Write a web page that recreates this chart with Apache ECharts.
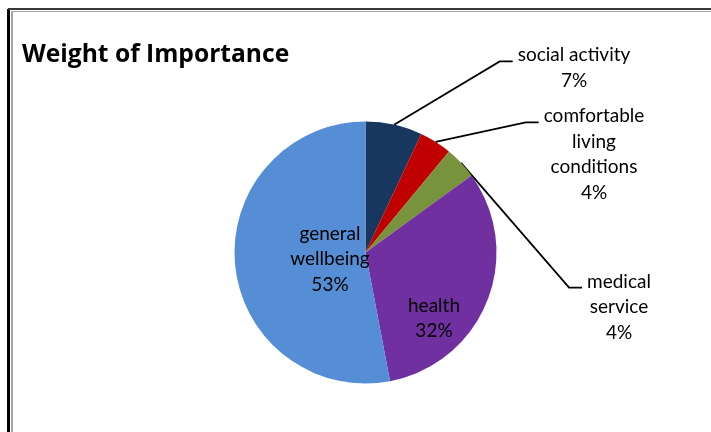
<!DOCTYPE html>
<html>
<head>
<meta charset="utf-8">
<script src="https://cdn.jsdelivr.net/npm/echarts@6/dist/echarts.min.js"></script>
<style>
  html, body { margin: 0; padding: 0; background: #fff; }
  #wrap { position: relative; width: 711px; height: 432px; overflow: hidden; background: #fff; }
  #chart { position: absolute; left: 0; top: 0; width: 711px; height: 432px; }
  .ln { position: absolute; }
</style>
</head>
<body>
<div id="wrap">
  <div id="chart"></div>
  <div class="ln" style="left:7px;top:9px;width:3px;height:423px;background:#000;"></div>
  <div class="ln" style="left:8px;top:8px;width:703px;height:2px;background:#3a3a3a;"></div>
  <div class="ln" style="left:11px;top:11px;width:2px;height:421px;background:#a6a6a6;"></div>
  <div class="ln" style="left:11px;top:11px;width:700px;height:1px;background:#a6a6a6;"></div>
</div>
<script>
// ---- data ----
const categories = ['social activity', 'comfortable living conditions', 'medical service', 'health', 'general wellbeing'];
const values = [7, 4, 4, 32, 53];
const labelText = ['social activity', 'comfortable\nliving\nconditions', 'medical\nservice', 'health', 'general\nwellbeing'];
const colors = ['#17375E', '#C00000', '#77933C', '#7030A0', '#558ED5'];

// ---- layout (label block centres, px) ----
const labelCenters = [[574, 68], [594, 154.5], [619, 307], [434, 318.5], [330, 259]];
const outside = [true, true, true, false, false];

const chart = echarts.init(document.getElementById('chart'), null, { renderer: 'canvas' });

const seriesData = categories.map((name, i) => ({
  name: name,
  value: values[i],
  itemStyle: { color: colors[i] },
  label: { position: outside[i] ? 'outside' : 'inside' },
  labelLine: { show: outside[i] }
}));

chart.setOption({
  animation: false,
  title: {
    text: 'Weight of Importance',
    left: 22,
    top: 42,
    padding: 0,
    textStyle: { fontFamily: 'Open Sans', fontWeight: 'bold', fontSize: 24.6, color: '#000' }
  },
  series: [{
    type: 'pie',
    center: [365.5, 252.5],
    radius: [0, 131],
    startAngle: 90,
    clockwise: true,
    avoidLabelOverlap: false,
    itemStyle: { borderWidth: 0 },
    emphasis: { disabled: true },
    label: {
      show: true,
      formatter: (p) => labelText[p.dataIndex] + '\n' + p.value + '%',
      fontFamily: 'Lato',
      fontSize: 19,
      lineHeight: 25.6,
      color: '#000',
      align: 'center'
    },
    labelLine: {
      show: true,
      length: 20,
      length2: 10,
      lineStyle: { color: '#000', width: 1.8 }
    },
    labelLayout: function (params) {
      const i = params.dataIndex;
      const c = labelCenters[i];
      const w = params.labelRect.width;
      const h = params.labelRect.height;
      const res = { x: c[0], y: c[1], align: 'center', verticalAlign: 'middle' };
      if (outside[i] && params.labelLinePoints) {
        const start = params.labelLinePoints[0];
        const left = c[0] - w / 2;
        const top = c[1] - h / 2;
        const yl = top + 19;
        res.labelLinePoints = [[start[0], start[1]], [left - 18, yl], [left - 5, yl]];
      }
      return res;
    },
    data: seriesData
  }]
});
</script>
</body>
</html>
